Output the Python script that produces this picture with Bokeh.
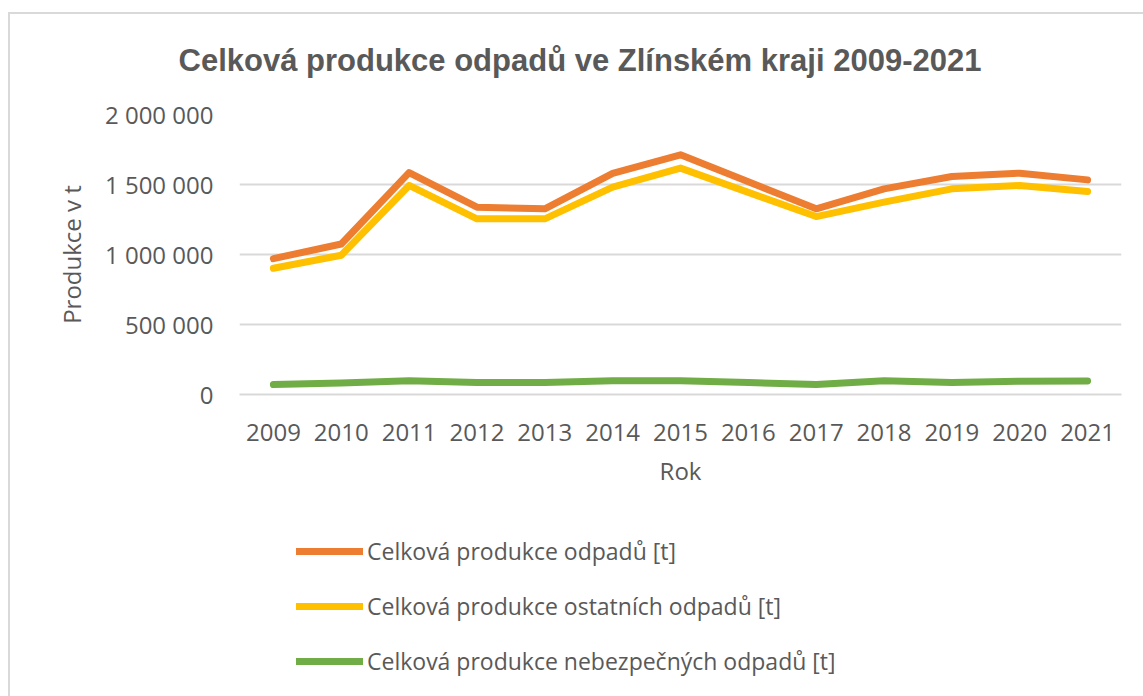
from bokeh.plotting import figure
from bokeh.layouts import column
from bokeh.models import (FactorRange, Range1d, FixedTicker, Legend, LegendItem)
from bokeh.embed import file_html
from bokeh.resources import INLINE

# ---- data ----
years = ["2009", "2010", "2011", "2012", "2013", "2014", "2015",
         "2016", "2017", "2018", "2019", "2020", "2021"]
total = [970000, 1075000, 1585000, 1338000, 1326000, 1580000, 1712000,
         1519000, 1326000, 1469000, 1557000, 1581000, 1533000]
other = [902000, 995000, 1493000, 1255000, 1255000, 1481000, 1617000,
         1444000, 1271000, 1374000, 1469000, 1493000, 1450000]
hazardous = [71000, 82000, 98000, 85000, 85000, 98000, 98000,
             85000, 72000, 98000, 86000, 95000, 97000]
series_names = ["Celková produkce odpadů [t]",
                "Celková produkce ostatních odpadů [t]",
                "Celková produkce nebezpečných odpadů [t]"]
y_tick_values = [0, 500000, 1000000, 1500000, 2000000]
y_tick_labels = ["0", "500 000", "1 000 000", "1 500 000", "2 000 000"]
title_text = "Celková produkce odpadů ve Zlínském kraji 2009-2021"
x_title = "Rok"
y_title = "Produkce v t"

TEXT = "#595959"
GRID = "#d9d9d9"
FONT = "Open Sans"
colors = ["#ED7D31", "#FFC000", "#70AD47"]
series = [total, other, hazardous]

# ---------------- main chart ----------------
p = figure(width=1143, height=500, output_backend="svg", toolbar_location=None,
           x_range=FactorRange(factors=years, range_padding=0),
           y_range=Range1d(0, 2000000),
           min_border_left=239, min_border_right=22,
           min_border_top=114, min_border_bottom=106)
p.outline_line_color = None
p.background_fill_color = "white"
p.border_fill_color = None
p.styles = {
    "background-color": "white",
    "background-image": ("linear-gradient(#d9d9d9, #d9d9d9), "
                         "linear-gradient(#d9d9d9, #d9d9d9)"),
    "background-size": "100% 2px, 2px 100%",
    "background-position": "9px 12px, 8px 12px",
    "background-repeat": "no-repeat, no-repeat",
}

# title
p.title.text = title_text
p.title.align = "left"
p.title.offset = -61
p.title.standoff = 74
p.title.text_font = "Liberation Sans"
p.title.text_font_style = "bold"
p.title.text_font_size = "31px"
p.title.text_color = TEXT

# grid
p.xgrid.visible = False
p.ygrid.grid_line_color = GRID
p.ygrid.grid_line_width = 2
p.ygrid.ticker = FixedTicker(ticks=y_tick_values)

# y axis
p.yaxis.ticker = FixedTicker(ticks=y_tick_values)
p.yaxis.major_label_overrides = {v: l for v, l in zip(y_tick_values, y_tick_labels)}
p.yaxis.axis_line_color = None
p.yaxis.major_tick_line_color = None
p.yaxis.minor_tick_line_color = None
p.yaxis.major_label_standoff = 20
p.yaxis.major_label_text_font = FONT
p.yaxis.major_label_text_font_size = "24px"
p.yaxis.major_label_text_color = TEXT
p.yaxis.axis_label = y_title
p.yaxis.axis_label_text_font = FONT
p.yaxis.axis_label_text_font_size = "24px"
p.yaxis.axis_label_text_font_style = "normal"
p.yaxis.axis_label_text_color = TEXT
p.yaxis.axis_label_standoff = 14

# x axis
p.xaxis.axis_line_color = GRID
p.xaxis.axis_line_width = 2
p.xaxis.major_tick_line_color = None
p.xaxis.minor_tick_line_color = None
p.xaxis.major_label_standoff = 23
p.xaxis.major_label_text_font = FONT
p.xaxis.major_label_text_font_size = "24px"
p.xaxis.major_label_text_color = TEXT
p.xaxis.axis_label = x_title
p.xaxis.axis_label_text_font = FONT
p.xaxis.axis_label_text_font_size = "24px"
p.xaxis.axis_label_text_font_style = "normal"
p.xaxis.axis_label_text_color = TEXT
p.xaxis.axis_label_standoff = 10

for vals, col in zip(series, colors):
    p.line(x=years, y=vals, line_color=col, line_width=7,
           line_cap="round", line_join="round")

# ---------------- legend area (separate canvas below the chart) ----------------
# The same series are drawn here outside the visible y-range, only so that the
# legend has renderers to take its glyph styles from.
lf = figure(width=1143, height=196, output_backend="svg", toolbar_location=None,
            x_range=FactorRange(factors=years, range_padding=0),
            y_range=Range1d(-2, -1),
            x_axis_type=None, y_axis_type=None,
            min_border_left=0, min_border_right=0,
            min_border_top=0, min_border_bottom=0)
lf.outline_line_color = None
lf.background_fill_color = None
lf.border_fill_color = None
lf.xgrid.visible = False
lf.ygrid.visible = False
lf.styles = {
    "background-color": "white",
    "background-image": "linear-gradient(#d9d9d9, #d9d9d9)",
    "background-size": "2px 100%",
    "background-position": "8px 0px",
    "background-repeat": "no-repeat",
}

items = []
for name, vals, col in zip(series_names, series, colors):
    r = lf.line(x=years, y=vals, line_color=col, line_width=7, line_cap="round")
    items.append(LegendItem(label=name, renderers=[r]))

legend = Legend(items=items, location=(57, 19), orientation="vertical",
                glyph_width=67, glyph_height=30, label_height=30, spacing=23,
                padding=10, margin=0, label_standoff=4,
                border_line_color=None, background_fill_alpha=0,
                label_text_font=FONT, label_text_font_size="23px",
                label_text_color=TEXT)
lf.add_layout(legend, "center")

layout = column(p, lf, spacing=0)
open("out.html", "w").write(file_html(layout, INLINE))
